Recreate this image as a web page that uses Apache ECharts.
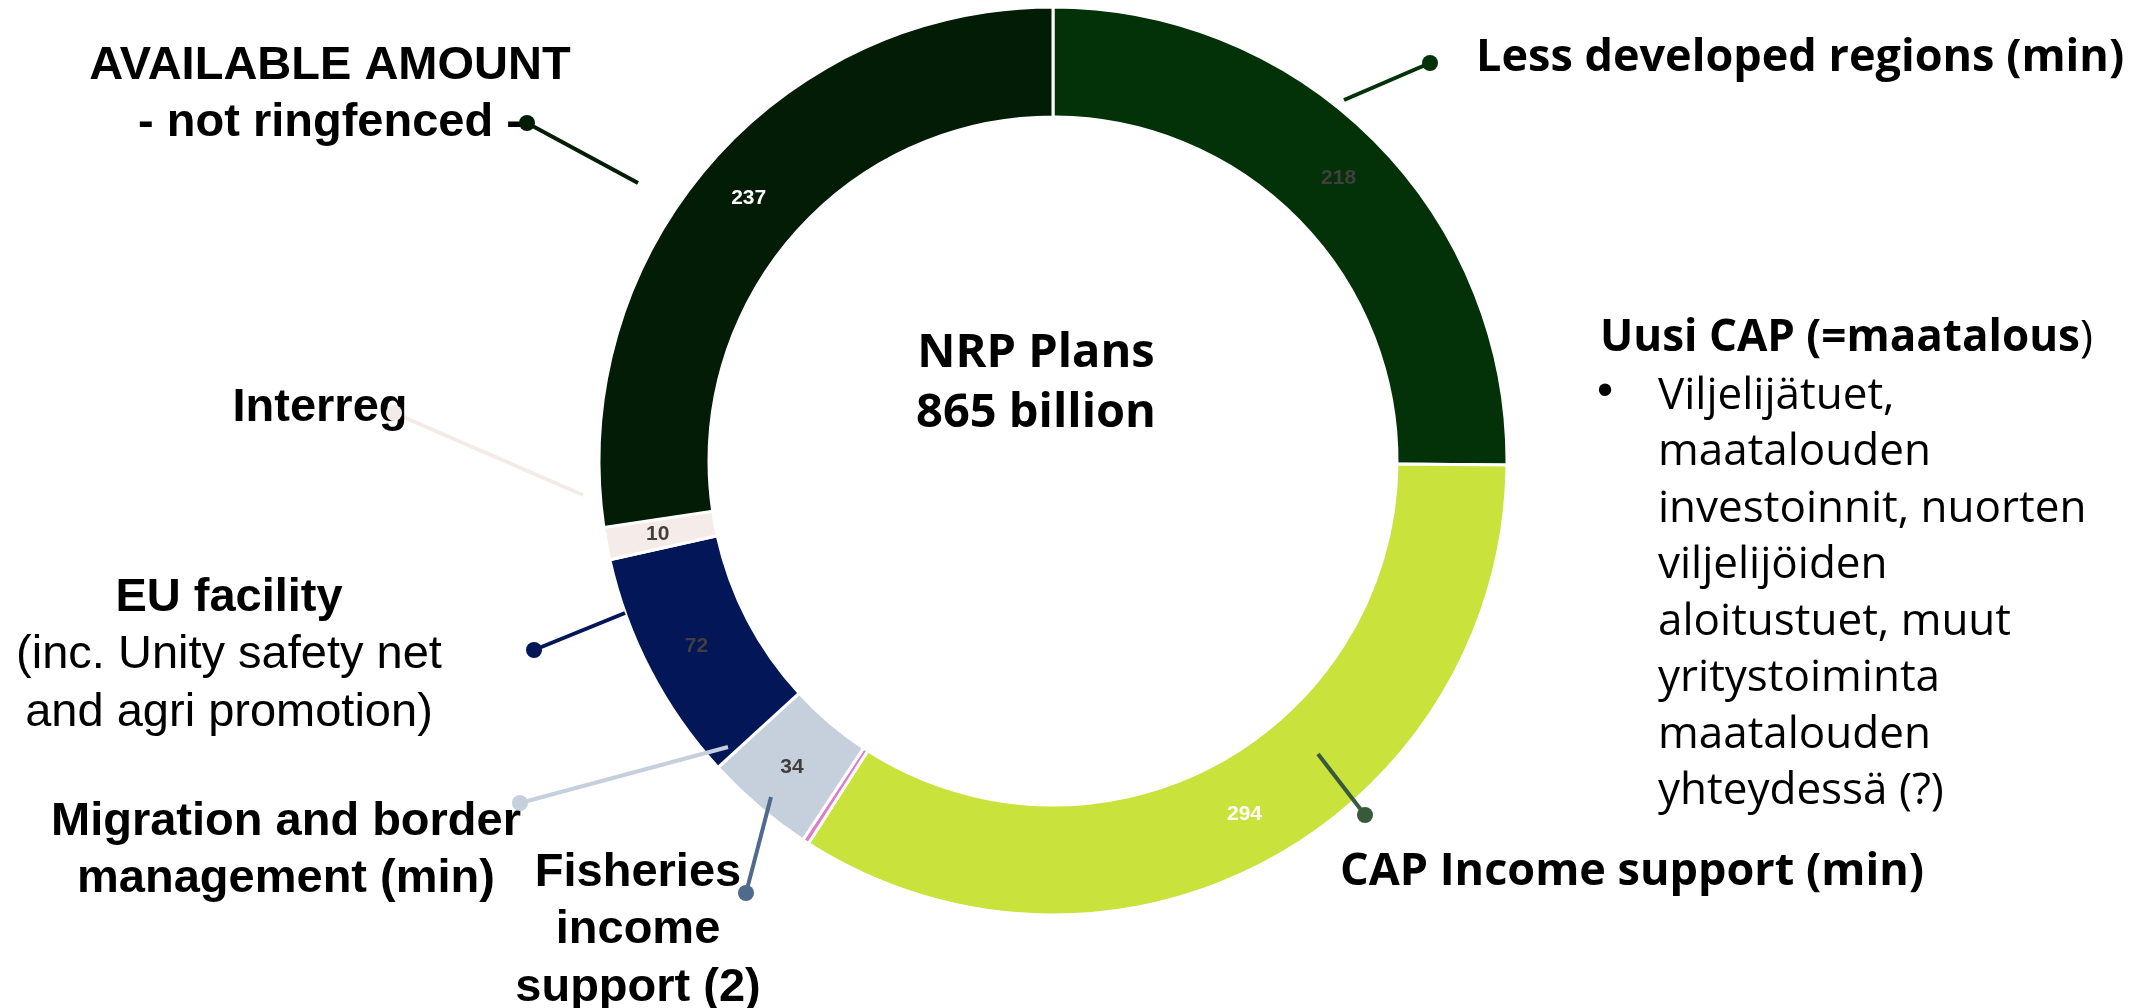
<!DOCTYPE html>
<html><head><meta charset="utf-8">
<script src="https://cdn.jsdelivr.net/npm/echarts@6/dist/echarts.min.js"></script>
<style>html,body{margin:0;padding:0;background:#fff}#c{width:2149px;height:1008px}</style>
</head><body><div id="c"></div>
<script>
// ---- data ----
const categories = ['Less developed regions (min)', 'CAP Income support (min)', 'Fisheries income support (2)',
  'Migration and border management (min)', 'EU facility', 'Interreg', 'AVAILABLE AMOUNT - not ringfenced -'];
const values = [218, 294, 2, 34, 72, 10, 237];
const sliceColors = ['#033209', '#c9e23c', '#e07acb', '#c6d0dd', '#021658', '#f5ece9', '#021c05'];
const valueLabelColors = ['#433e3e', '#ffffff', null, '#433e3e', '#433e3e', '#433e3e', '#ffffff'];
const leaderColors = ['#033209', '#385a3c', '#4f6a8d', '#c6d0dd', '#021658', '#f3ebe7', '#021c05'];
const calloutTexts = [
  '{a|Less developed regions (min)}',
  '{a|CAP Income support (min)}',
  '{b|Fisheries}\n{b|income}\n{b|support (2)}',
  '{b|Migration and border}\n{b|management (min)}',
  '{b|EU facility}\n{r|(inc. Unity safety net}\n{r|and agri promotion)}',
  '{b|Interreg}',
  '{b|AVAILABLE AMOUNT}\n{b|- not ringfenced -}'
];
const centerTitle = ['NRP Plans', '865 billion'];
const noteHeading = 'Uusi CAP (=maatalous';
const noteLines = ['Viljelijätuet,', 'maatalouden', 'investoinnit, nuorten', 'viljelijöiden',
  'aloitustuet, muut', 'yritystoiminta', 'maatalouden', 'yhteydessä (?)'];

// ---- layout ----
const CENTER = [1053, 461];
const RADIUS = [344, 454];
const calloutLayout = [
  { x: 1476, y: 58, align: 'left', va: 'middle', from: [1344, 100], dot: [1430, 63] },
  { x: 1340, y: 872, align: 'left', va: 'middle', from: [1318, 754], dot: [1365, 815] },
  { x: 638, y: 844, align: 'center', va: 'top', from: [771, 797], dot: [746, 893] },
  { x: 286, y: 793, align: 'center', va: 'top', from: [728, 747], dot: [520, 803] },
  { x: 229, y: 569, align: 'center', va: 'top', from: [625, 613], dot: [534, 650] },
  { x: 320, y: 379, align: 'center', va: 'top', from: [583, 495], dot: [394, 413] },
  { x: 330, y: 37, align: 'center', va: 'top', from: [638, 183], dot: [527, 123] }
];

const chart = echarts.init(document.getElementById('c'), null, { renderer: 'canvas' });

const ringData = categories.map((n, i) => ({
  name: n, value: values[i],
  itemStyle: { color: sliceColors[i] },
  label: valueLabelColors[i] ? { color: valueLabelColors[i] } : { show: false }
}));
const calloutData = categories.map((n, i) => ({
  name: n, value: values[i],
  label: { formatter: calloutTexts[i] },
  labelLine: { lineStyle: { color: leaderColors[i] } }
}));
const dotData = categories.map((n, i) => ({
  name: n, value: values[i],
  label: { rich: { d: { width: 16, height: 16, borderRadius: 8, backgroundColor: leaderColors[i] } } }
}));

const richLeft = {
  b: { fontFamily: 'Liberation Sans', fontWeight: 'bold', fontSize: 47, lineHeight: 57.5, color: '#000' },
  r: { fontFamily: 'Liberation Sans', fontWeight: 'normal', fontSize: 47, lineHeight: 57.5, color: '#000' },
  a: { fontFamily: 'Open Sans', fontWeight: 'bold', fontSize: 45, lineHeight: 57, color: '#000' }
};

const common = {
  type: 'pie', center: CENTER, radius: RADIUS, startAngle: 90, clockwise: true,
  avoidLabelOverlap: false, animation: false
};

chart.setOption({
  backgroundColor: '#ffffff',
  series: [
    Object.assign({}, common, {
      name: 'ring',
      itemStyle: { borderColor: '#ffffff', borderWidth: 3 },
      label: { show: true, position: 'inside', formatter: '{c}', fontFamily: 'Liberation Sans',
        fontWeight: 'bold', fontSize: 21 },
      labelLine: { show: false },
      emphasis: { disabled: true },
      data: ringData
    }),
    Object.assign({}, common, {
      name: 'callouts', silent: true, z: 3,
      itemStyle: { color: 'rgba(0,0,0,0)', borderWidth: 0 },
      label: { show: true, position: 'outside', rich: richLeft },
      labelLine: { show: true, smooth: false, lineStyle: { width: 4 } },
      emphasis: { disabled: true },
      labelLayout: function (p) {
        const L = calloutLayout[p.dataIndex];
        return { x: L.x, y: L.y, align: L.align, verticalAlign: L.va, labelLinePoints: [L.from, L.dot] };
      },
      data: calloutData
    }),
    Object.assign({}, common, {
      name: 'dots', silent: true, z: 4,
      itemStyle: { color: 'rgba(0,0,0,0)', borderWidth: 0 },
      label: { show: true, position: 'outside', formatter: '{d|}' },
      labelLine: { show: false },
      emphasis: { disabled: true },
      labelLayout: function (p) {
        const L = calloutLayout[p.dataIndex];
        return { x: L.dot[0], y: L.dot[1], align: 'center', verticalAlign: 'middle' };
      },
      data: dotData
    })
  ],
  graphic: [
    { type: 'text', x: 1036, y: 384, z: 10,
      style: { text: centerTitle.join('\n'), fontFamily: 'Open Sans', fontWeight: 'bold', fontSize: 47,
        lineHeight: 60, fill: '#000', align: 'center', textAlign: 'center', verticalAlign: 'middle', textVerticalAlign: 'middle' } },
    { type: 'text', x: 1600, y: 338, z: 10,
      style: { text: '{h|' + noteHeading + '}{t|)}', align: 'left', textAlign: 'left', verticalAlign: 'middle', textVerticalAlign: 'middle',
        rich: { h: { fontFamily: 'Open Sans', fontWeight: 'bold', fontSize: 44, fill: '#000', color: '#000' },
                t: { fontFamily: 'Open Sans', fontWeight: 'normal', fontSize: 44, fill: '#000', color: '#000' } } } },
    { type: 'text', x: 1597, y: 392, z: 10,
      style: { text: '•', fontFamily: 'Liberation Sans', fontSize: 46, fill: '#000', align: 'left', textAlign: 'left',
        verticalAlign: 'middle', textVerticalAlign: 'middle' } },
    { type: 'text', x: 1658, y: 368, z: 10,
      style: { text: noteLines.join('\n'), fontFamily: 'Open Sans', fontSize: 44, lineHeight: 56.5, fill: '#000',
        align: 'left', textAlign: 'left', verticalAlign: 'top', textVerticalAlign: 'top' } }
  ]
});
</script></body></html>
